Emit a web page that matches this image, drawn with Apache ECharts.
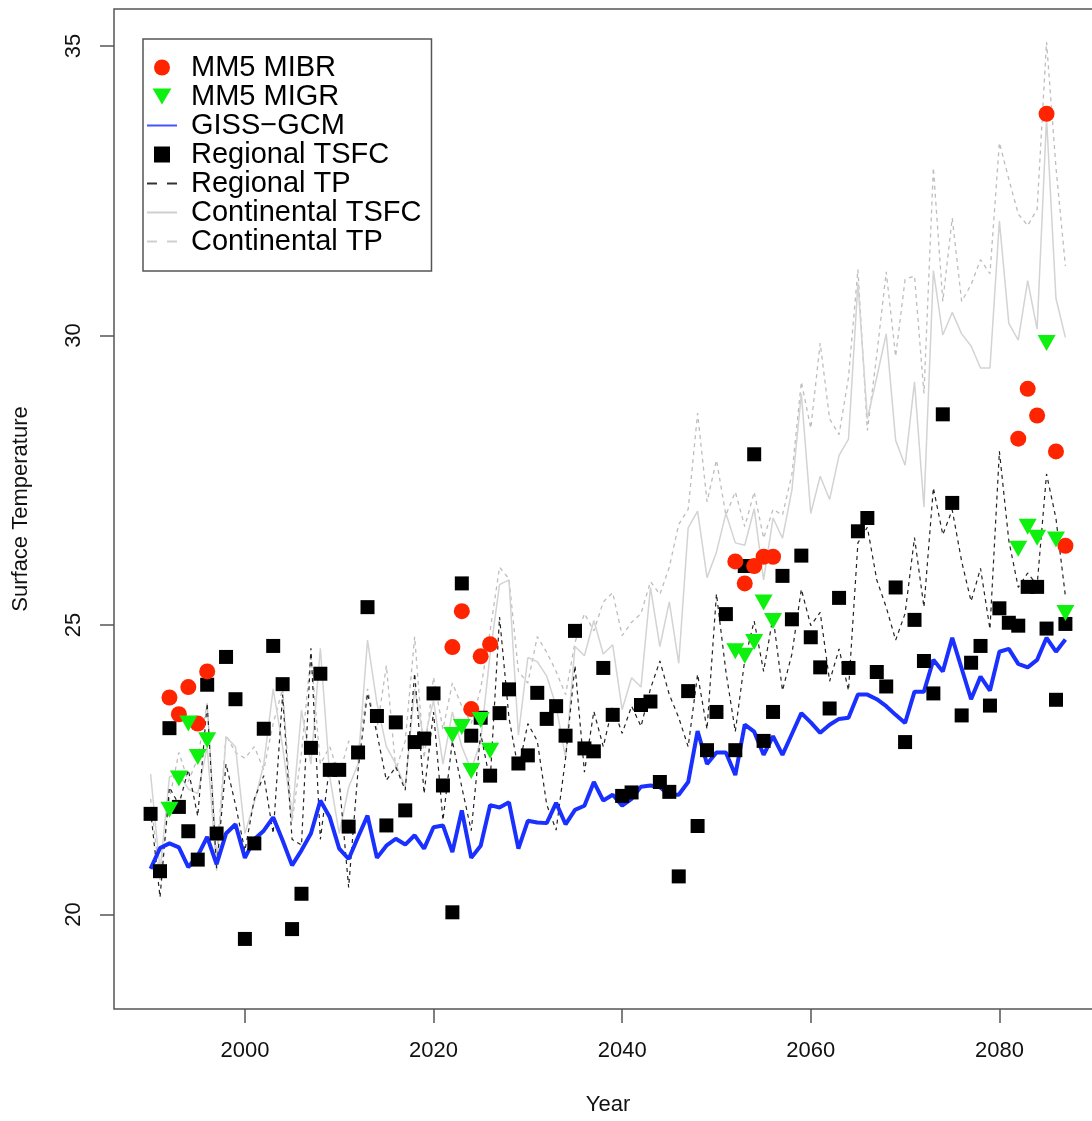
<!DOCTYPE html>
<html>
<head>
<meta charset="utf-8">
<title>Surface Temperature</title>
<script src="https://cdn.jsdelivr.net/npm/echarts@6/dist/echarts.min.js"></script>
<style>
  html, body { margin: 0; padding: 0; background: #fff; }
  #chart { width: 1092px; height: 1121px; }
</style>
</head>
<body>
<div id="chart"></div>
<script>
// yearly series start in 1990
const firstYear = 1990;

const regionalTSFC = [
  21.74, 20.75, 23.22, 21.86, 21.44, 20.95, 23.97, 21.40, 24.45, 23.72,
  19.58, 21.23, 23.21, 24.64, 23.98, 19.75, 20.36, 22.88, 24.16, 22.50,
  22.50, 21.52, 22.80, 25.31, 23.43, 21.54, 23.32, 21.80, 22.98, 23.04,
  23.82, 22.23, 20.04, 25.72, 23.09, 23.40, 22.40, 23.48, 23.89, 22.61,
  22.75, 23.83, 23.38, 23.60, 23.09, 24.90, 22.87, 22.82, 24.26, 23.45,
  22.05, 22.11, 23.62, 23.68, 22.29, 22.12, 20.66, 23.86, 21.53, 22.84,
  23.50, 25.19, 22.84, 26.02, 27.95, 23.00, 23.50, 25.85, 25.10, 26.20,
  24.79, 24.27, 23.56, 25.47, 24.26, 26.62, 26.85, 24.19, 23.94, 25.65,
  22.98, 25.09, 24.38, 23.82, 28.64, 27.11, 23.44, 24.35, 24.64, 23.61,
  25.29, 25.04, 24.99, 25.66, 25.66, 24.94, 23.71, 25.02
];

const gissGCM = [
  20.79, 21.15, 21.23, 21.16, 20.82, 21.02, 21.34, 20.87, 21.40, 21.56,
  20.98, 21.30, 21.45, 21.68, 21.28, 20.85, 21.11, 21.40, 21.97, 21.68,
  21.14, 20.96, 21.34, 21.71, 20.98, 21.19, 21.31, 21.21, 21.37, 21.14,
  21.51, 21.54, 21.08, 21.80, 20.98, 21.19, 21.89, 21.85, 21.94, 21.14,
  21.62, 21.59, 21.58, 21.93, 21.56, 21.81, 21.88, 22.29, 21.97, 22.07,
  21.88, 22.00, 22.21, 22.23, 22.20, 22.07, 22.07, 22.29, 23.17, 22.60,
  22.80, 22.80, 22.41, 23.28, 23.16, 22.76, 23.08, 22.76, 23.12, 23.48,
  23.32, 23.14, 23.28, 23.38, 23.40, 23.80, 23.80, 23.72, 23.60, 23.45,
  23.31, 23.85, 23.85, 24.40, 24.20, 24.78, 24.25, 23.72, 24.11, 23.87,
  24.54, 24.59, 24.33, 24.27, 24.40, 24.78, 24.54, 24.75
];

const regionalTP = [
  21.80, 20.30, 22.20, 21.90, 22.50, 21.70, 23.65, 20.80, 22.60, 21.90,
  21.10, 22.00, 22.40, 21.40, 23.80, 21.30, 21.20, 24.60, 21.30, 22.60,
  22.30, 20.47, 22.50, 23.82, 23.13, 22.32, 22.55, 22.15, 24.17, 22.09,
  23.50, 21.63, 23.00, 22.20, 21.45, 23.13, 22.30, 25.14, 23.40, 22.50,
  23.30, 23.00, 21.90, 21.46, 22.70, 24.30, 22.46, 23.51, 22.90, 23.60,
  23.13, 23.60, 23.25, 23.90, 24.38, 23.80, 23.40, 22.90, 24.15, 23.20,
  25.54, 24.20, 23.16, 24.40, 25.07, 24.20, 25.15, 23.87, 24.50, 25.62,
  24.99, 25.22, 24.03, 24.59, 23.87, 26.42, 26.69, 25.78, 25.31, 24.74,
  25.20, 26.51, 25.31, 27.37, 26.56, 26.99, 26.10, 25.41, 25.98, 24.93,
  28.00, 26.46, 25.65, 25.90, 25.69, 27.61, 26.84, 25.50
];

const continentalTSFC = [
  22.43, 20.76, 22.38, 22.43, 22.17, 22.09, 22.90, 20.76, 23.07, 22.90,
  21.40, 21.94, 22.60, 23.90, 22.90, 21.68, 23.53, 22.60, 24.60, 22.38,
  21.40, 22.20, 22.60, 24.74, 23.65, 22.90, 22.60, 22.20, 23.90, 23.00,
  23.70, 22.60, 23.50, 22.90, 22.50, 23.00, 24.50, 25.70, 25.78, 23.10,
  24.44, 24.37, 24.12, 23.60, 22.71, 24.63, 24.47, 25.08, 24.50, 24.66,
  23.54, 24.09, 23.93, 25.65, 24.63, 25.40, 24.34, 26.68, 26.97, 25.82,
  26.26, 26.93, 26.42, 26.38, 27.01, 25.78, 26.85, 26.50, 27.33, 29.00,
  26.93, 27.57, 27.17, 27.93, 28.21, 30.91, 28.56, 29.28, 30.03, 28.19,
  27.76, 29.20, 27.04, 31.12, 30.01, 30.40, 30.03, 29.82, 29.44, 29.44,
  31.98, 30.21, 29.92, 30.95, 30.11, 33.76, 30.64, 29.97
];

const continentalTP = [
  22.00, 20.60, 22.00, 22.80, 22.30, 22.70, 23.65, 21.00, 23.10, 22.80,
  22.70, 22.90, 22.50, 23.30, 23.90, 21.60, 22.80, 24.50, 22.60, 22.90,
  22.40, 23.00, 22.80, 23.90, 23.20, 24.30, 22.50, 23.00, 24.80, 22.70,
  24.10, 23.20, 24.00, 23.60, 23.30, 23.90, 24.90, 26.00, 25.80, 24.20,
  24.00, 24.80, 24.53, 24.20, 23.80, 24.70, 25.20, 24.90, 25.40, 25.56,
  24.82, 25.05, 25.20, 25.75, 25.53, 26.00, 26.74, 27.00, 28.66, 27.13,
  27.85, 26.90, 27.30, 26.70, 27.30, 26.50, 27.00, 26.90, 27.60, 29.20,
  28.40, 29.87, 28.56, 28.29, 29.28, 31.14, 28.36, 29.67, 31.10, 29.64,
  30.97, 31.03, 29.00, 32.90, 30.59, 32.03, 30.59, 30.88, 31.31, 31.07,
  33.33, 32.70, 32.10, 31.90, 32.18, 35.07, 32.90, 31.20
];

// MM5 runs only cover a few periods
const mm5Years = [
  1992, 1993, 1994, 1995, 1996,
  2022, 2023, 2024, 2025, 2026,
  2052, 2053, 2054, 2055, 2056,
  2082, 2083, 2084, 2085, 2086, 2087
];
const mm5MIBR = [
  23.75, 23.46, 23.93, 23.30, 24.20,
  24.62, 25.24, 23.55, 24.46, 24.67,
  26.10, 25.72, 26.02, 26.18, 26.18,
  28.22, 29.08, 28.62, 33.83, 28.00, 26.37
];
const mm5MIGR = [
  21.81, 22.35, 23.30, 22.72, 23.01,
  23.10, 23.24, 22.48, 23.36, 22.83,
  24.55, 24.47, 24.71, 25.39, 25.07,
  26.32, 26.70, 26.51, 29.87, 26.48, 25.21
];

const xTicks = [2000, 2020, 2040, 2060, 2080];
const yTicks = [20, 25, 30, 35];

const yearly = (vals) => vals.map((v, i) => [firstYear + i, v]);
const byYear = (yrs, vals) => yrs.map((y, i) => [y, vals[i]]);

const RED = '#ff2400';
const GREEN = '#0ef00e';
const BLUE = '#1a30ff';
const FONT = 'Liberation Sans';

// legend icons drawn as thin bars so line entries have no symbol on them
const SOLID_ICON = 'path://M0,0h30v2h-30z';
const DASH_ICON = 'path://M0,0h10v2h-10zM20,0h10v2h-10z';

const chart = echarts.init(document.getElementById('chart'));

const option = {
  animation: false,
  backgroundColor: '#fff',
  textStyle: { fontFamily: FONT },
  grid: {
    left: 114,
    top: 9,
    width: 988,
    bottom: 112,
    outerBoundsMode: 'none',
    show: true,
    borderColor: '#555',
    borderWidth: 1.5
  },
  legend: {
    orient: 'vertical',
    left: 143,
    top: 39,
    padding: [14, 10, 15, 4],
    itemWidth: 30,
    itemHeight: 16,
    itemGap: 0,
    backgroundColor: '#fff',
    borderColor: '#555',
    borderWidth: 1.5,
    borderRadius: 0,
    selectedMode: false,
    textStyle: {
      fontFamily: FONT,
      fontSize: 29,
      lineHeight: 28,
      color: '#000',
      padding: [0, 0, 0, 9]
    },
    data: [
      { name: 'MM5 MIBR', icon: 'circle', itemStyle: { color: RED } },
      { name: 'MM5 MIGR', icon: 'path://M0,0L20,0L10,17Z', itemStyle: { color: GREEN } },
      { name: 'GISS\u2212GCM', icon: SOLID_ICON, itemStyle: { color: '#4455ff' } },
      { name: 'Regional TSFC', icon: 'path://M0,0h10v10h-10z', itemStyle: { color: '#000' } },
      { name: 'Regional TP', icon: DASH_ICON, itemStyle: { color: '#333' } },
      { name: 'Continental TSFC', icon: SOLID_ICON, itemStyle: { color: '#cfcfcf' } },
      { name: 'Continental TP', icon: DASH_ICON, itemStyle: { color: '#cfcfcf' } }
    ]
  },
  xAxis: {
    type: 'value',
    min: 1986.12,
    max: 2090.88,
    name: 'Year',
    nameLocation: 'middle',
    nameGap: 85,
    nameTextStyle: { fontFamily: FONT, fontSize: 22, color: '#111' },
    splitLine: { show: false },
    axisLine: { show: false },
    axisTick: {
      show: true,
      length: 14,
      customValues: xTicks,
      lineStyle: { color: '#555', width: 1.5 }
    },
    axisLabel: {
      customValues: xTicks,
      margin: 31,
      fontFamily: FONT,
      fontSize: 22,
      color: '#111',
      formatter: (v) => String(v)
    }
  },
  yAxis: {
    type: 'value',
    min: 18.37,
    max: 35.64,
    name: 'Surface Temperature',
    nameLocation: 'middle',
    nameGap: 82,
    nameTextStyle: { fontFamily: FONT, fontSize: 22, color: '#111' },
    splitLine: { show: false },
    axisLine: { show: false },
    axisTick: {
      show: true,
      length: 14,
      customValues: yTicks,
      lineStyle: { color: '#555', width: 1.5 }
    },
    axisLabel: {
      customValues: yTicks,
      rotate: 90,
      margin: 29,
      fontFamily: FONT,
      fontSize: 22,
      color: '#111'
    }
  },
  series: [
    {
      name: 'Continental TP',
      type: 'line',
      data: yearly(continentalTP),
      symbol: 'none',
      z: 1,
      lineStyle: { color: '#bdbdbd', width: 1.3, type: [4, 4] },
      itemStyle: { color: '#c8c8c8' }
    },
    {
      name: 'Continental TSFC',
      type: 'line',
      data: yearly(continentalTSFC),
      symbol: 'none',
      z: 2,
      lineStyle: { color: '#d3d3d3', width: 1.5 },
      itemStyle: { color: '#d3d3d3' }
    },
    {
      name: 'Regional TP',
      type: 'line',
      data: yearly(regionalTP),
      symbol: 'none',
      z: 3,
      lineStyle: { color: '#222', width: 1.2, type: [4, 4] },
      itemStyle: { color: '#222' }
    },
    {
      name: 'GISS\u2212GCM',
      type: 'line',
      data: yearly(gissGCM),
      symbol: 'none',
      z: 4,
      lineStyle: { color: BLUE, width: 4 },
      itemStyle: { color: BLUE }
    },
    {
      name: 'Regional TSFC',
      type: 'scatter',
      data: yearly(regionalTSFC),
      symbol: 'rect',
      symbolSize: 14,
      z: 5,
      itemStyle: { color: '#000', opacity: 1 }
    },
    {
      name: 'MM5 MIBR',
      type: 'scatter',
      data: byYear(mm5Years, mm5MIBR),
      symbol: 'circle',
      symbolSize: 16,
      z: 6,
      itemStyle: { color: RED, opacity: 1 }
    },
    {
      name: 'MM5 MIGR',
      type: 'scatter',
      data: byYear(mm5Years, mm5MIGR),
      symbol: 'triangle',
      symbolRotate: 180,
      symbolSize: [18, 16],
      z: 7,
      itemStyle: { color: GREEN, opacity: 1 }
    }
  ]
};

chart.setOption(option);
</script>
</body>
</html>
